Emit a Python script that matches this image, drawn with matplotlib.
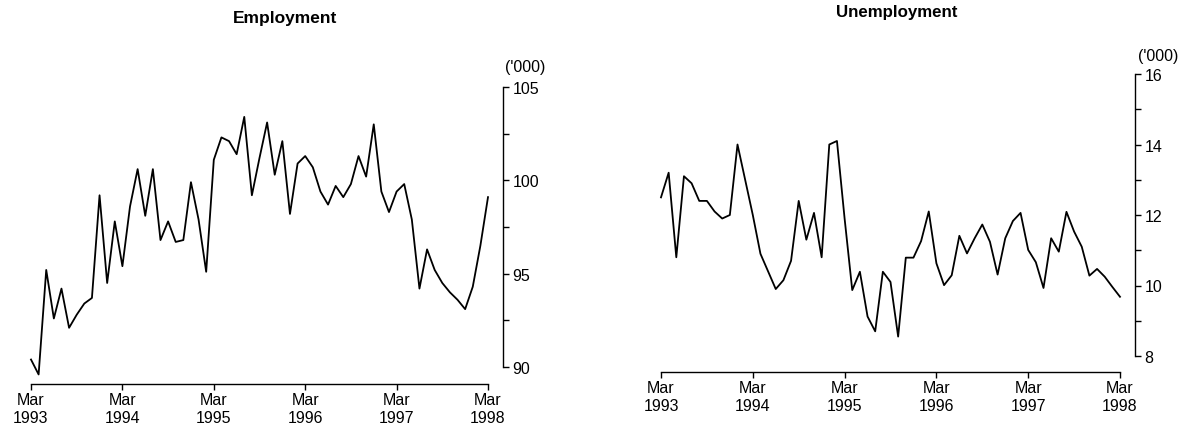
import matplotlib
matplotlib.use("Agg")
import matplotlib.pyplot as plt
import numpy as np
from matplotlib.ticker import MultipleLocator

plt.rcParams['font.family'] = ['Liberation Sans', 'DejaVu Sans']

# Monthly data, Mar 1993 .. Mar 1998 ('000)
employment = [90.4, 89.6, 95.2, 92.6, 94.2, 92.1, 92.8, 93.4, 93.7, 99.2,
              94.5, 97.8, 95.4, 98.6, 100.6, 98.1, 100.6, 96.8, 97.8, 96.7,
              96.8, 99.9, 97.9, 95.1, 101.1, 102.3, 102.1, 101.4, 103.4, 99.2,
              101.2, 103.1, 100.3, 102.1, 98.2, 100.9, 101.3, 100.7, 99.4, 98.7,
              99.7, 99.1, 99.8, 101.3, 100.2, 103.0, 99.4, 98.3, 99.4, 99.8,
              97.9, 94.2, 96.3, 95.2, 94.5, 94.0, 93.6, 93.1, 94.3, 96.5, 99.1]
unemployment = [12.5, 13.2, 10.8, 13.1, 12.9, 12.4, 12.4, 12.1, 11.9, 12.0,
                14.0, 13.0, 12.0, 10.9, 10.4, 9.9, 10.15, 10.7, 12.4, 11.3,
                12.06, 10.8, 14.0, 14.1, 11.9, 9.87, 10.39, 9.12, 8.7, 10.39,
                10.1, 8.55, 10.79, 10.79, 11.26, 12.1, 10.63, 10.01, 10.29, 11.41,
                10.91, 11.34, 11.73, 11.24, 10.31, 11.34, 11.83, 12.06, 11.01, 10.66,
                9.93, 11.34, 10.96, 12.09, 11.53, 11.1, 10.28, 10.47, 10.25, 9.96, 9.68]
tick_labels = ['Mar\n1993', 'Mar\n1994', 'Mar\n1995', 'Mar\n1996', 'Mar\n1997', 'Mar\n1998']
titles = ['Employment', 'Unemployment']

W, H = 1185, 435
fig = plt.figure(figsize=(W / 100, H / 100), dpi=100)

def px_axes(x0, x1, ytop, ybot):
    return fig.add_axes([x0 / W, 1 - ybot / H, (x1 - x0) / W, (ybot - ytop) / H])

ax1 = px_axes(31, 488, 88, 368)
ax2 = px_axes(661, 1120, 75, 357)

specs = [
    (ax1, employment, (90, 105), 5, 2.5, 17, 15),
    (ax2, unemployment, (8, 16), 2, 1, 16, 15),
]
for ax, data, ylim, major, minor, xoff, yoff in specs:
    x = np.arange(len(data))
    ax.plot(x, data, color='black', lw=1.3, clip_on=False)
    ax.set_xlim(0, len(data) - 1)
    ax.set_ylim(*ylim)
    ax.set_xticks(np.arange(0, len(data), 12))
    ax.set_xticklabels(tick_labels)
    ax.yaxis.set_major_locator(MultipleLocator(major))
    ax.yaxis.set_minor_locator(MultipleLocator(minor))
    ax.yaxis.tick_right()
    for s in ['left', 'top']:
        ax.spines[s].set_visible(False)
    ax.spines['bottom'].set_position(('outward', xoff * 0.72))
    ax.spines['right'].set_position(('outward', yoff * 0.72))
    for s in ['bottom', 'right']:
        ax.spines[s].set_linewidth(1.0)
    ax.tick_params(axis='both', which='both', direction='out', length=4,
                   width=1.0, labelsize=11.5, colors='black')
    ax.tick_params(axis='x', pad=2)
    ax.tick_params(axis='y', pad=3)
    ax.patch.set_visible(False)

fig.text(285 / W, 1 - 18 / H, titles[0], ha='center', va='center',
         fontsize=12.5, fontweight='bold')
fig.text(897 / W, 1 - 13 / H, titles[1], ha='center', va='center',
         fontsize=12.2, fontweight='bold')
fig.text(525 / W, 1 - 68 / H, "('000)", ha='center', va='center', fontsize=11.5)
fig.text(1158 / W, 1 - 57 / H, "('000)", ha='center', va='center', fontsize=11.5)

fig.savefig('out.png', dpi=100)
